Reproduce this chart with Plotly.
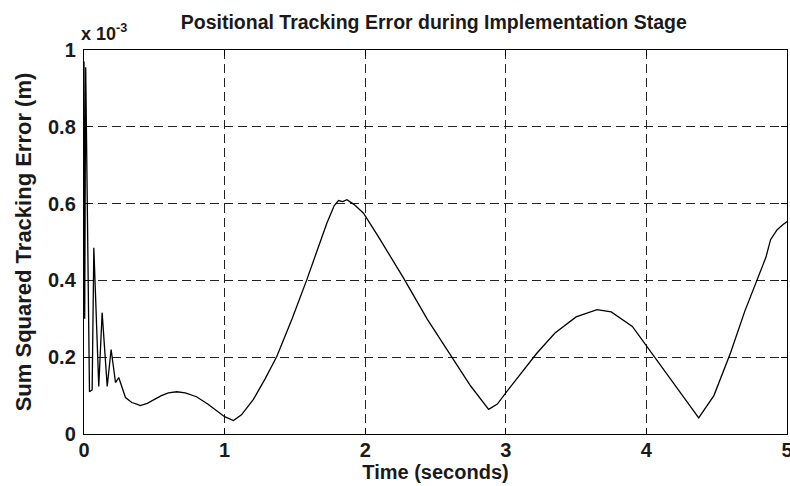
import plotly.graph_objects as go

# Time (s) and sum squared tracking error (x 1e-3 m)
time_s = [0.0, 0.005, 0.012, 0.039, 0.058, 0.07, 0.105, 0.129, 0.165, 0.193, 0.224,
          0.247, 0.295, 0.34, 0.38, 0.40, 0.45, 0.5, 0.55, 0.6, 0.66, 0.72, 0.8, 0.88,
          0.95, 1.0, 1.063, 1.12, 1.205, 1.29, 1.371, 1.48, 1.585, 1.66, 1.727, 1.78,
          1.81, 1.84, 1.87, 1.92, 1.988, 2.1, 2.273, 2.44, 2.605, 2.75, 2.878, 2.94,
          3.008, 3.1, 3.222, 3.35, 3.5, 3.649, 3.75, 3.9, 4.028, 4.2, 4.372, 4.48,
          4.598, 4.7, 4.799, 4.85, 4.883, 4.93, 4.97, 5.0]
error_e3 = [0.97, 0.30, 0.955, 0.11, 0.115, 0.485, 0.124, 0.316, 0.124, 0.22, 0.134,
            0.147, 0.095, 0.082, 0.077, 0.074, 0.08, 0.09, 0.10, 0.107, 0.110, 0.107, 0.097, 0.078,
            0.058, 0.045, 0.035, 0.05, 0.090, 0.145, 0.202, 0.30, 0.402, 0.48, 0.549, 0.595,
            0.608, 0.605, 0.61, 0.598, 0.575, 0.51, 0.406, 0.30, 0.207, 0.125, 0.064, 0.078,
            0.111, 0.155, 0.211, 0.263, 0.305, 0.324, 0.318, 0.28, 0.215, 0.13, 0.042, 0.10,
            0.211, 0.32, 0.415, 0.46, 0.506, 0.532, 0.545, 0.553]

x_ticks = [0, 1, 2, 3, 4, 5]
y_ticks = [0, 0.2, 0.4, 0.6, 0.8, 1.0]
y_tick_labels = ["0", "0.2", "0.4", "0.6", "0.8", "1"]

title_text = "Positional Tracking Error during Implementation Stage"
x_title = "Time (seconds)"
y_title = "Sum Squared Tracking Error (m)"
exponent_text = "x 10<sup>-3</sup>"

FONT = "Liberation Sans, Arial, sans-serif"
INK = "#1a1a1a"

fig = go.Figure()
fig.add_trace(go.Scatter(x=time_s, y=error_e3, mode="lines",
                         line=dict(color="black", width=1.3), showlegend=False))

axis_common = dict(
    showline=True, linecolor="black", linewidth=1.4, mirror="ticks",
    ticks="inside", ticklen=6, tickcolor="black",
    showgrid=True, gridcolor="#222", gridwidth=1, griddash="9px,5px",
    zeroline=False, automargin=False, ticklabeloverflow="allow",
    tickfont=dict(family=FONT, size=20, color=INK, weight="bold"),
)

fig.update_layout(
    width=790, height=486, autosize=False,
    margin=dict(l=83.5, r=3, t=50, b=51.5, pad=0),
    paper_bgcolor="white", plot_bgcolor="white",
    title=dict(text=title_text, xref="paper", x=0.4975, xanchor="center",
               y=0.9547, yanchor="middle",
               font=dict(family=FONT, size=19.5, color=INK, weight="bold")),
    xaxis=dict(range=[0, 5], tickvals=x_ticks, ticktext=[str(v) for v in x_ticks],
               ticklabelstandoff=-2,
               title=dict(text=x_title, font=dict(family=FONT, size=20, color=INK, weight="bold"),
                          standoff=0),
               **axis_common),
    yaxis=dict(range=[0, 1.0], tickvals=y_ticks, ticktext=y_tick_labels,
               ticklabelstandoff=3,
               title=dict(text=y_title, font=dict(family=FONT, size=22, color=INK, weight="bold"),
                          standoff=10),
               **axis_common),
    annotations=[dict(text=exponent_text, xref="paper", yref="paper", x=-0.0078, y=1.0,
                      xanchor="left", yanchor="bottom", showarrow=False, yshift=4,
                      font=dict(family=FONT, size=18, color=INK, weight="bold"))],
)

fig.write_html("out.html",
               config={"displayModeBar": False},
               post_script="document.documentElement.style.margin='0';"
                           "document.body.style.margin='0';"
                           "document.body.style.overflow='hidden';")
